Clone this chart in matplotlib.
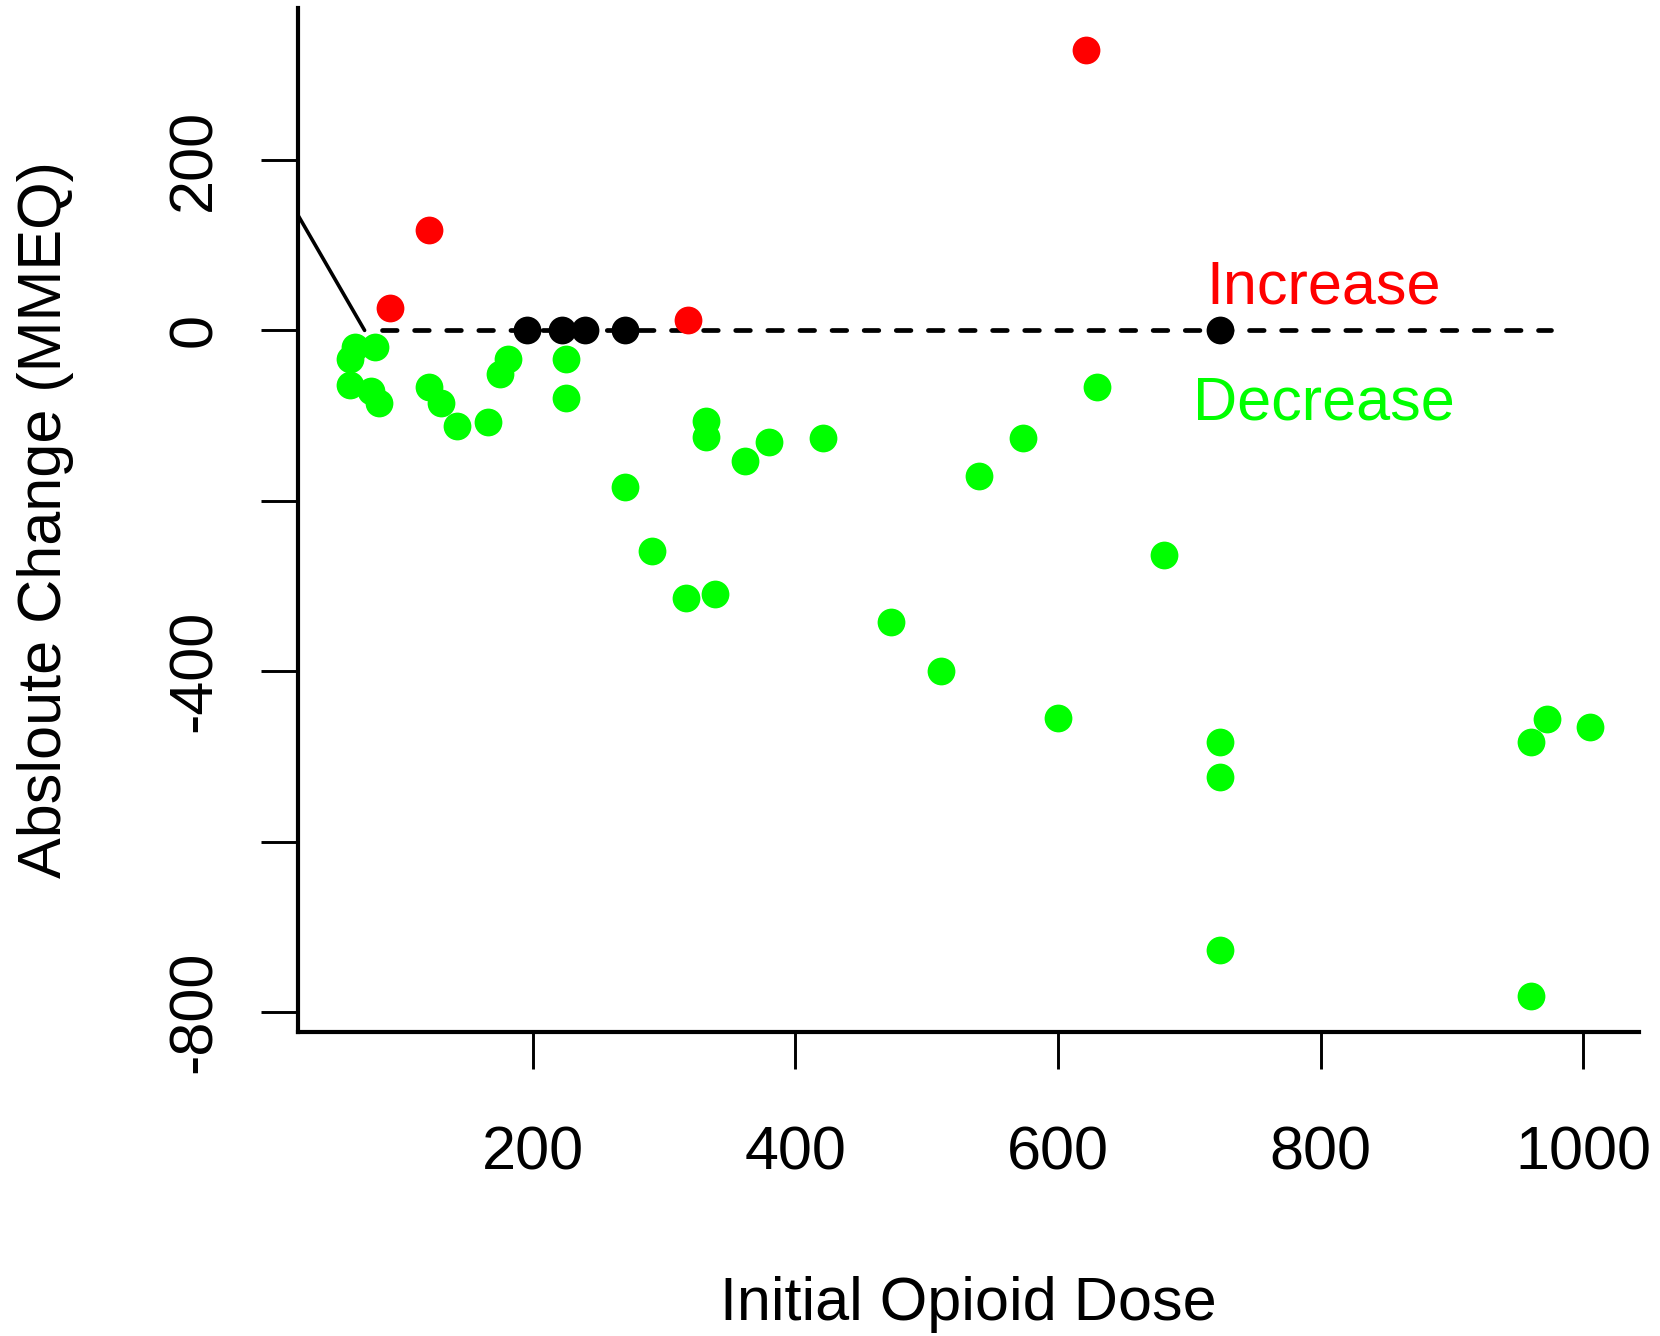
import matplotlib
matplotlib.use("Agg")
import matplotlib.pyplot as plt

plt.rcParams['font.family'] = ['Liberation Sans', 'DejaVu Sans']

# dose vs. change in MMEQ, split by direction of change
inc_dose = [91, 121, 318, 621]
inc_change = [26, 118, 12, 329]

same_dose = [196, 222, 240, 270, 723]
same_change = [0, 0, 0, 0, 0]

dec_dose = [65, 80, 61, 61, 77, 83,
            121, 130, 142, 166,
            175, 181, 225, 225,
            270, 291, 317, 339,
            332, 332, 362, 380, 421,
            473, 511, 540, 573, 600, 630, 681,
            723, 723, 723,
            960, 960, 972, 1005]
dec_change = [-20, -20, -34, -64, -71, -85,
              -66, -85, -112, -107,
              -51, -34, -34, -79,
              -184, -259, -314, -309,
              -106, -125, -153, -131, -126,
              -342, -400, -171, -126, -455, -66, -264,
              -483, -524, -727,
              -483, -781, -456, -465]

# reference line: short solid lead-in, then dashed at zero
lead_x = [21, 72]
lead_y = [136, 0]
zero_x = [85, 975]
zero_y = [0, 0]

xticks = [200, 400, 600, 800, 1000]
yticks = [-800, -600, -400, -200, 0, 200]
ytick_labels = ['-800', '', '-400', '', '0', '200']

fig = plt.figure(figsize=(16.6, 13.36), dpi=100)
ax = fig.add_axes([298 / 1660, 1 - 1032 / 1336, (1639 - 298) / 1660, (1032 - 8) / 1336])

ax.plot(lead_x, lead_y, color='black', lw=2.6, solid_capstyle='round', zorder=2)
ax.plot(zero_x, zero_y, color='black', lw=3.4, linestyle=(0, (3.1, 3.7)),
        dash_capstyle='round', zorder=2)

ms = 20
ax.plot(dec_dose, dec_change, 'o', color='#00ff00', ms=ms, mew=0, zorder=3)
ax.plot(inc_dose, inc_change, 'o', color='#ff0000', ms=ms, mew=0, zorder=3)
ax.plot(same_dose, same_change, 'o', color='black', ms=ms, mew=0, zorder=3)

ax.text(802, 32, 'Increase', color='#ff0000', fontsize=44, ha='center', va='baseline')
ax.text(802, -105, 'Decrease', color='#00ff00', fontsize=44, ha='center', va='baseline')

ax.set_xlim(21.3, 1042.3)
ax.set_ylim(-823.5, 378.4)

ax.spines['top'].set_visible(False)
ax.spines['right'].set_visible(False)
ax.spines['left'].set_linewidth(3)
ax.spines['bottom'].set_linewidth(3)

ax.set_xticks(xticks)
ax.set_xticklabels([str(t) for t in xticks])
ax.set_yticks(yticks)
ax.set_yticklabels(ytick_labels, rotation=90, va='center')
ax.tick_params(axis='both', direction='out', length=26.5, width=2.1, labelsize=44)
ax.tick_params(axis='x', pad=41)
ax.tick_params(axis='y', pad=27)

ax.set_xlabel('Initial Opioid Dose', fontsize=44, labelpad=67)
ax.set_ylabel('Absloute Change (MMEQ)', fontsize=44, labelpad=67)

fig.savefig('out.png', dpi=100)
